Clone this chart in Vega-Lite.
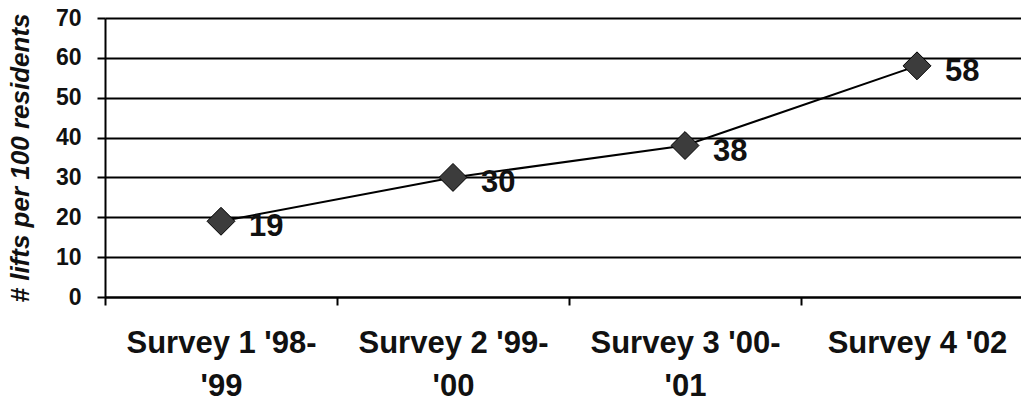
{
  "$schema": "https://vega.github.io/schema/vega-lite/v6.json",
  "width": 916,
  "height": 279,
  "autosize": {"type": "none"},
  "padding": {"left": 105, "top": 18, "right": 0, "bottom": 109},
  "background": "white",
  "data": {
    "values": [
      {"survey": "Survey 1 '98-'99", "lifts": 19},
      {"survey": "Survey 2 '99-'00", "lifts": 30},
      {"survey": "Survey 3 '00-'01", "lifts": 38},
      {"survey": "Survey 4 '02", "lifts": 58}
    ]
  },
  "encoding": {
    "x": {
      "field": "survey",
      "type": "nominal",
      "sort": null,
      "scale": {"range": [0, 928], "paddingInner": 0, "paddingOuter": 0},
      "axis": {
        "title": null,
        "labelAngle": 0,
        "labelFont": "Liberation Sans",
        "labelFontWeight": "bold",
        "labelFontSize": 31,
        "labelColor": "#111",
        "labelLimit": 600,
        "labelLineHeight": 43,
        "labelPadding": 23,
        "labelOverlap": false,
        "labelExpr": "split(replace(datum.label, \"-'\", \"-|'\"), '|')",
        "tickBand": "extent",
        "tickSize": 8,
        "tickColor": "black",
        "tickWidth": 2,
        "domainColor": "black",
        "domainWidth": 2,
        "grid": false
      }
    },
    "y": {
      "field": "lifts",
      "type": "quantitative",
      "scale": {"domain": [0, 70], "nice": false},
      "axis": {
        "title": "# lifts per 100 residents",
        "titleFont": "Liberation Sans",
        "titleFontWeight": "bold",
        "titleFontStyle": "italic",
        "titleFontSize": 26,
        "titleColor": "#111",
        "titleX": -72,
        "values": [0, 10, 20, 30, 40, 50, 60, 70],
        "labelFont": "Liberation Sans",
        "labelFontWeight": "bold",
        "labelFontSize": 23,
        "labelColor": "#111",
        "labelPadding": 16,
        "tickSize": 8,
        "tickColor": "black",
        "tickWidth": 2,
        "domainColor": "black",
        "domainWidth": 2,
        "grid": true,
        "gridColor": "black",
        "gridWidth": 2,
        "gridOpacity": 1
      }
    }
  },
  "layer": [
    {"mark": {"type": "line", "color": "black", "strokeWidth": 2}},
    {
      "mark": {
        "type": "point",
        "shape": "diamond",
        "size": 780,
        "filled": true,
        "fill": "#3c3c3c",
        "stroke": "black",
        "strokeWidth": 1,
        "opacity": 1
      }
    },
    {
      "mark": {
        "type": "text",
        "align": "left",
        "baseline": "middle",
        "dx": 28,
        "dy": 6,
        "font": "Liberation Sans",
        "fontWeight": "bold",
        "fontSize": 31,
        "color": "#111"
      },
      "encoding": {"text": {"field": "lifts", "type": "quantitative"}}
    }
  ]
}
